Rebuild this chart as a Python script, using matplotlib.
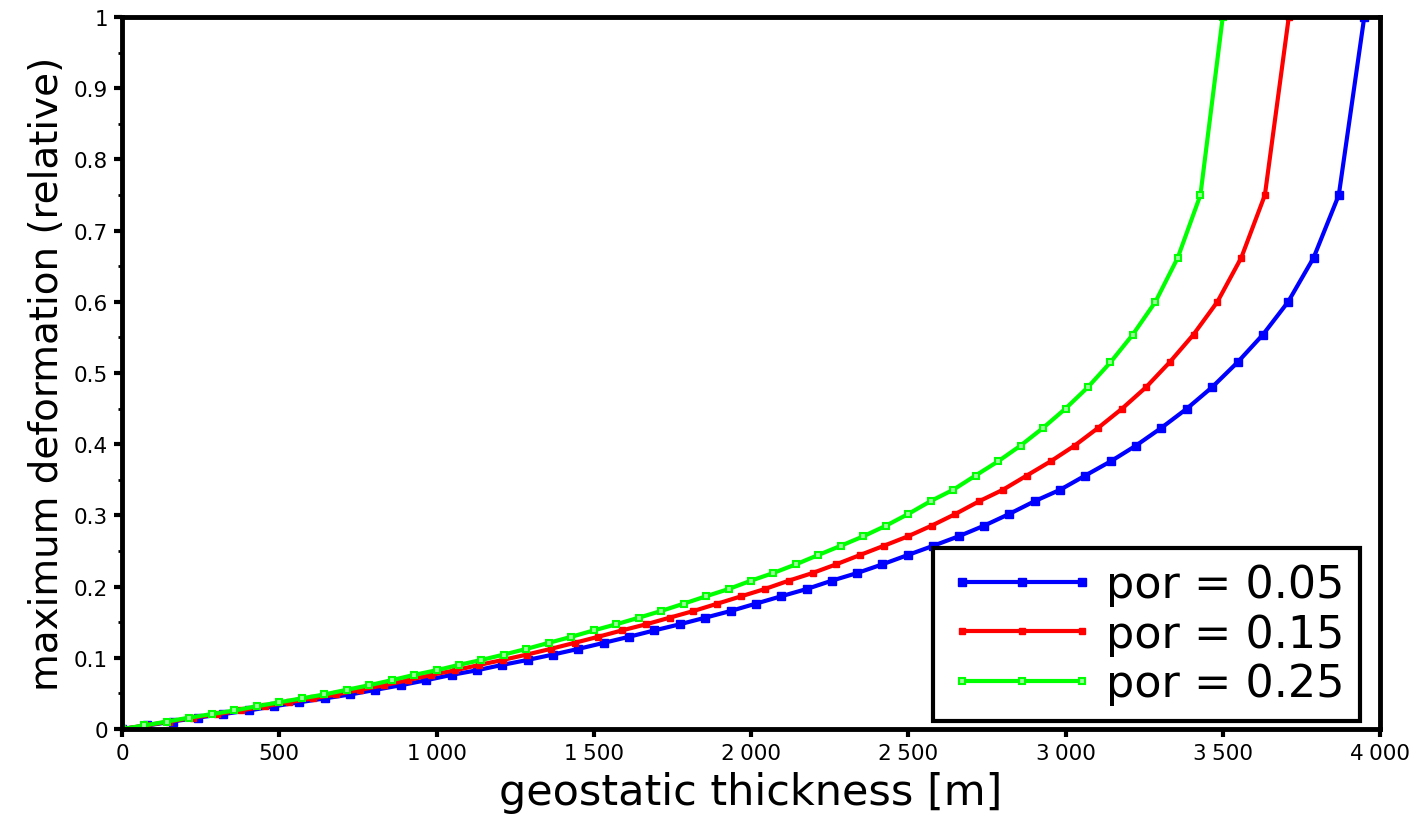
import numpy as np
from matplotlib import pyplot as plt
from matplotlib.ticker import FuncFormatter, MultipleLocator

# relative deformation at each sample (same for all porosities)
deform = [0.0, 0.005, 0.0105, 0.016, 0.021, 0.026, 0.032, 0.0375, 0.043, 0.0485,
          0.055, 0.0615, 0.0685, 0.076, 0.0825, 0.090, 0.097, 0.1045, 0.1125, 0.121,
          0.1295, 0.1385, 0.147, 0.1563, 0.1657, 0.176, 0.1864, 0.1966, 0.2083, 0.2191,
          0.2313, 0.2444, 0.2574, 0.2706, 0.2855, 0.302, 0.320, 0.336, 0.356, 0.376,
          0.398, 0.423, 0.450, 0.480, 0.515, 0.554, 0.600, 0.662, 0.75, 1.0]

# geostatic thickness [m] for each porosity
thick_05 = [0, 81, 161, 242, 322, 403, 484, 564, 645, 726,
            806, 887, 967, 1048, 1129, 1209, 1290, 1370, 1451, 1532,
            1612, 1693, 1773, 1854, 1935, 2015, 2096, 2177, 2257, 2338,
            2418, 2499, 2580, 2660, 2741, 2821, 2902, 2983, 3063, 3144,
            3224, 3305, 3386, 3466, 3547, 3628, 3708, 3789, 3869, 3950]
thick_15 = [0, 76, 151, 227, 303, 379, 454, 530, 606, 681,
            757, 833, 909, 984, 1060, 1136, 1211, 1287, 1363, 1439,
            1514, 1590, 1666, 1741, 1817, 1893, 1969, 2044, 2120, 2196,
            2271, 2347, 2423, 2499, 2574, 2650, 2726, 2801, 2877, 2953,
            3029, 3104, 3180, 3256, 3331, 3407, 3483, 3559, 3634, 3710]
thick_25 = [0, 71, 143, 214, 286, 357, 429, 500, 571, 643,
            714, 786, 857, 929, 1000, 1071, 1143, 1214, 1286, 1357,
            1429, 1500, 1571, 1643, 1714, 1786, 1857, 1929, 2000, 2071,
            2143, 2214, 2286, 2357, 2429, 2500, 2571, 2643, 2714, 2786,
            2857, 2929, 3000, 3071, 3143, 3214, 3286, 3357, 3429, 3500]

labels = ['por = 0.05', 'por = 0.15', 'por = 0.25']

fig = plt.figure(figsize=(14.18, 8.2), dpi=100)
ax = fig.add_axes([122/1418, 1 - 730/820, 1258/1418, 712/820])

ax.plot(thick_05, deform, color='#0000ff', lw=3, marker='s', ms=5.5,
        label=labels[0])
ax.plot(thick_15, deform, color='#ff0000', lw=3, marker='s', ms=4,
        label=labels[1])
ax.plot(thick_25, deform, color='#00ff00', lw=3, marker='s', ms=5,
        mfc='#99ff99', mec='#00ff00', mew=1.5, label=labels[2])

ax.set_xlim(0, 4000)
ax.set_ylim(0, 1)
ax.xaxis.set_major_locator(MultipleLocator(500))
ax.yaxis.set_major_locator(MultipleLocator(0.1))
ax.yaxis.set_minor_locator(MultipleLocator(0.05))
ax.xaxis.set_major_formatter(FuncFormatter(
    lambda v, p: '{:,}'.format(int(v)).replace(',', '\u2005')))
ax.yaxis.set_major_formatter(FuncFormatter(lambda v, p: '{:g}'.format(round(v, 2))))

for s in ax.spines.values():
    s.set_linewidth(3.5)
ax.tick_params(axis='both', which='major', labelsize=15.5, width=3, length=6,
               colors='black', pad=4)
ax.tick_params(axis='y', which='minor', width=2, length=3)

ax.set_xlabel('geostatic thickness [m]', fontsize=31, labelpad=6)
ax.set_ylabel('maximum deformation (relative)', fontsize=28, labelpad=6)

leg = ax.legend(loc='lower right', bbox_to_anchor=(1 - 20/1258, 8/712),
                borderaxespad=0, fontsize=32, fancybox=False, numpoints=3,
                handlelength=3.3, handletextpad=0.25, labelspacing=0.15,
                borderpad=0.35, framealpha=1)
leg.get_frame().set_edgecolor('black')
leg.get_frame().set_linewidth(3)

fig.savefig('out.png', dpi=100)
